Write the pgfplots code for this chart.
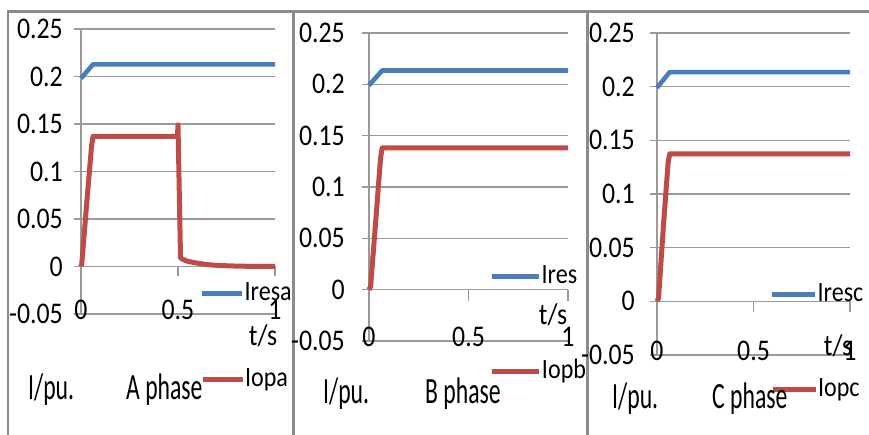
\documentclass[border=0pt]{standalone}
\usepackage{fontspec}
\setmainfont{Carlito}
\newfontfamily\tickfam{Carlito}[FakeStretch=0.86]
\newfontfamily\labfam{Carlito}[FakeStretch=0.64]
\usepackage{pgfplots}
\pgfplotsset{compat=1.18}
\definecolor{xlblue}{HTML}{4A7EBB}
\definecolor{xlred}{HTML}{BE4B48}
\definecolor{gridc}{HTML}{9A9A9A}
\definecolor{framec}{HTML}{8C8C8C}
\newcommand\tickfont{\tickfam\fontsize{30}{34}\selectfont}
\newcommand\legfont{\tickfam\fontsize{28}{32}\selectfont}
\newcommand\labfont{\labfam\fontsize{37}{42}\selectfont}

\pgfplotsset{
  geo/.style={scale only axis, xmin=0, xmax=1, ymin=-0.05, ymax=0.25, clip=false,
    legend cell align=left,
    legend style={draw=none, fill=none, inner sep=0pt, outer sep=0pt,
      font=\legfont, anchor=west,
      nodes={inner sep=0pt, text height=0.65em, text depth=0.2em, anchor=west},
      /tikz/every even column/.append style={column sep=1pt}}},
  panel/.style={geo,
    axis x line*=bottom, axis y line*=left,
    x axis line style={draw=none},
    y axis line style={gridc, line width=1.3pt},
    xtick={0,0.5,1}, xticklabels={0,0.5,1},
    ytick={-0.05,0,0.05,0.1,0.15,0.2,0.25},
    yticklabels={-0.05,0,0.05,0.1,0.15,0.2,0.25},
    xtick style={draw=none},
    ytick style={gridc, line width=1.3pt},
    tick align=outside, major tick length=7pt,
    ymajorgrids, grid style={gridc, line width=1.3pt},
    ticklabel style={font=\tickfont, inner sep=0pt},
    xticklabel style={anchor=south, yshift=1pt},
    yticklabel style={anchor=east},
  },
  over/.style={geo, hide axis},
  pA/.style={at={(81pt,-314pt)}, anchor=south west, width=194pt, height=285pt,
    legend image code/.code={\draw[##1] (0pt,5pt) -- (40pt,5pt);}},
  pB/.style={at={(369pt,-341pt)}, anchor=south west, width=199pt, height=308pt,
    legend image code/.code={\draw[##1] (0pt,5pt) -- (47pt,5pt);}},
  pC/.style={at={(657pt,-355pt)}, anchor=south west, width=193pt, height=322pt,
    legend image code/.code={\draw[##1] (0pt,5pt) -- (43pt,5pt);}},
  bl/.style={xlblue, line width=4.6pt, line join=round},
  rd/.style={xlred, line width=5pt, line join=round},
}

\begin{document}
\begin{tikzpicture}
\useasboundingbox (0pt,0pt) rectangle (869pt,-435pt);
% frames
\draw[framec, line width=2.5pt] (8pt,-435pt) -- (8pt,-11.5pt) -- (869pt,-11.5pt);
\draw[framec, line width=2.5pt] (293.5pt,-435pt) -- (293.5pt,-11.5pt);
\draw[framec, line width=2.5pt] (587.5pt,-435pt) -- (587.5pt,-11.5pt);

% ---------- Panel A ----------
\begin{axis}[panel, pA, yticklabel style={xshift=-11pt},
  legend style={at={(axis description cs:0.6134,0.0596)}}]
\draw[gridc, line width=1.3pt] (axis cs:0.5,0) -- ++(0pt,-10pt);
\draw[gridc, line width=1.3pt] (axis cs:1,0) -- ++(0pt,-10pt);
\addplot[bl] coordinates {(0,0.198) (0.062,0.2128) (0.3,0.2128) (0.65,0.2128) (1,0.2128)};
\addlegendentry{Iresa}
\end{axis}
\begin{axis}[over, pA, legend style={at={(axis description cs:0.6134,-0.2421)}}]
\addplot[rd] coordinates {(0,0) (0.004,0.003) (0.03,0.068) (0.055,0.128) (0.062,0.137)
 (0.3,0.137) (0.497,0.137) (0.500,0.149) (0.513,0.009) (0.53,0.007) (0.55,0.0055)
 (0.6,0.0035) (0.65,0.002) (0.7,0.0012) (0.8,0.0004) (0.9,0.0001) (1,0)};
\addlegendentry{Iopa}
\end{axis}
\node[font=\labfont, anchor=base west, inner sep=0pt] at (28pt,-399pt) {I/pu.};
\node[font=\labfont, anchor=base west, inner sep=0pt] at (126pt,-399pt) {A phase};
\node[font=\tickfont, inner sep=0pt] at (263pt,-336pt) {t/s};

% ---------- Panel B ----------
\begin{axis}[panel, pB, yticklabel style={xshift=-17pt},
  legend style={at={(axis description cs:0.608,0.198)}}]
\draw[gridc, line width=1.3pt] (axis cs:0.5,0) -- ++(0pt,-11pt);
\draw[gridc, line width=1.3pt] (axis cs:1,0) -- ++(0pt,-11pt);
\addplot[bl] coordinates {(0,0.199) (0.066,0.2135) (0.5,0.2135) (1,0.2135)};
\addlegendentry{Ires}
\end{axis}
\begin{axis}[over, pB, legend style={at={(axis description cs:0.608,-0.1104)}}]
\addplot[rd] coordinates {(0,0) (0.008,0.003) (0.035,0.07) (0.058,0.128) (0.066,0.138)
 (0.5,0.138) (1,0.138)};
\addlegendentry{Iopb}
\end{axis}
\node[font=\labfont, anchor=base west, inner sep=0pt] at (323pt,-403pt) {I/pu.};
\node[font=\labfont, anchor=base west, inner sep=0pt] at (425pt,-403pt) {B phase};
\node[font=\tickfont, inner sep=0pt] at (553pt,-315pt) {t/s};

% ---------- Panel C ----------
\begin{axis}[panel, pC, yticklabel style={xshift=-15pt},
  legend style={at={(axis description cs:0.5855,0.177)}}]
\draw[gridc, line width=1.3pt] (axis cs:0.5,0) -- ++(0pt,-11pt);
\draw[gridc, line width=1.3pt] (axis cs:1,0) -- ++(0pt,-11pt);
\addplot[bl] coordinates {(0,0.199) (0.066,0.2136) (0.5,0.2136) (1,0.2136)};
\addlegendentry{Iresc}
\end{axis}
\begin{axis}[over, pC, legend style={at={(axis description cs:0.5855,-0.118)}}]
\addplot[rd] coordinates {(0,0) (0.008,0.003) (0.035,0.075) (0.058,0.13) (0.066,0.1375)
 (0.5,0.1375) (1,0.1375)};
\addlegendentry{Iopc}
\end{axis}
\node[font=\labfont, anchor=base west, inner sep=0pt] at (612pt,-408pt) {I/pu.};
\node[font=\labfont, anchor=base west, inner sep=0pt] at (712pt,-408pt) {C phase};
\node[font=\tickfont, inner sep=0pt] at (838pt,-346pt) {t/s};
\end{tikzpicture}
\end{document}
